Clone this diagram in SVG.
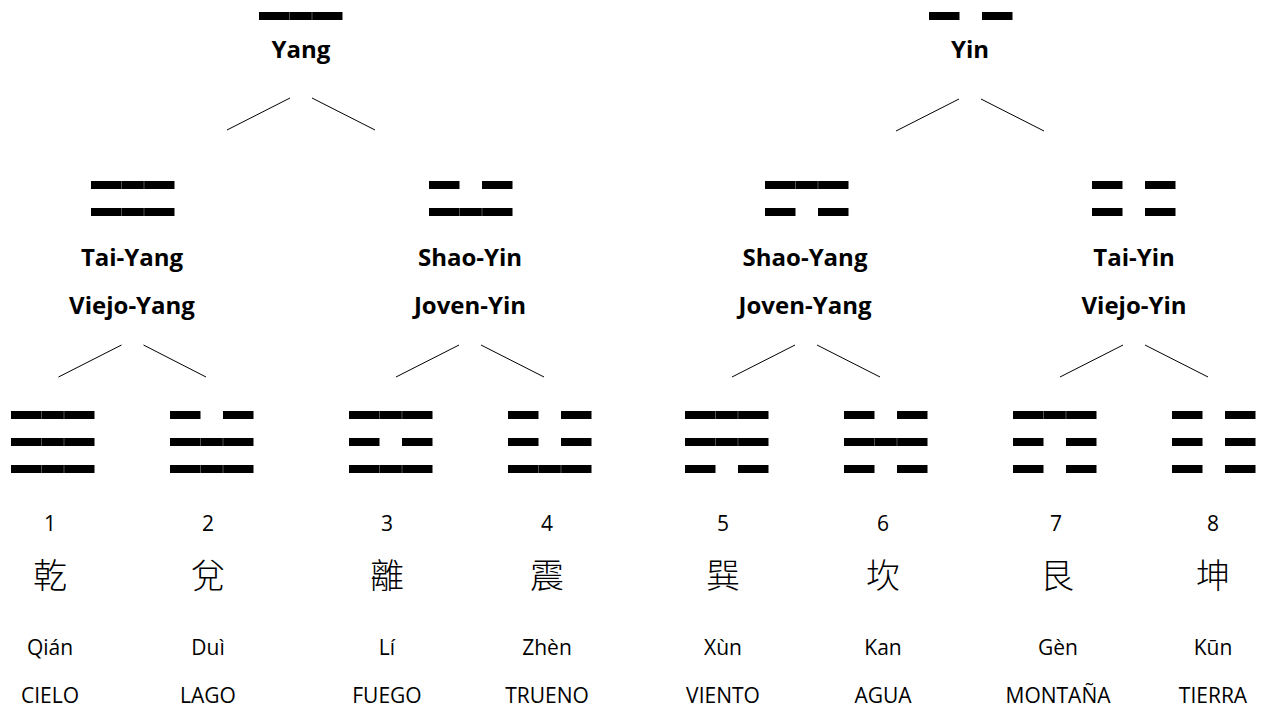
<svg xmlns="http://www.w3.org/2000/svg" xmlns:xlink="http://www.w3.org/1999/xlink" width="1265" height="711" viewBox="0 0 1265 711">
<style>
.b{font-family:"Open Sans","Liberation Sans",sans-serif;font-weight:bold;font-size:24px;fill:#000;text-anchor:middle}
.r{font-family:"Open Sans","Liberation Sans",sans-serif;font-size:21px;fill:#000;text-anchor:middle}
.c{font-family:"Noto Sans CJK TC","Noto Sans CJK SC",sans-serif;font-weight:300;font-size:34px;fill:#000;text-anchor:middle}
.ln{stroke:#000;stroke-width:1;fill:none}
.dv{stroke:#666;stroke-width:0.8}
</style>
<defs>
<g id="solid"><rect x="0" y="0" width="83.5" height="8" fill="#000"/><line class="dv" x1="30.5" y1="0" x2="30.5" y2="8"/><line class="dv" x1="53" y1="0" x2="53" y2="8"/></g>
<g id="broken"><rect x="0" y="0" width="30.5" height="8" fill="#000"/><rect x="53" y="0" width="30.5" height="8" fill="#000"/></g>
</defs>
<g id="connectors">
<line class="ln" x1="227" y1="130" x2="290" y2="98"/><line class="ln" x1="312" y1="98" x2="375" y2="130"/>
<line class="ln" x1="896" y1="131" x2="959" y2="99"/><line class="ln" x1="981" y1="99" x2="1044" y2="131"/>
<line class="ln" x1="58.5" y1="377" x2="121.5" y2="345"/><line class="ln" x1="143.5" y1="345" x2="206" y2="377"/>
<line class="ln" x1="396" y1="377" x2="459" y2="345"/><line class="ln" x1="481" y1="345" x2="544" y2="377"/>
<line class="ln" x1="732" y1="377" x2="795" y2="345"/><line class="ln" x1="817" y1="345" x2="880" y2="377"/>
<line class="ln" x1="1060" y1="377" x2="1123" y2="345"/><line class="ln" x1="1145" y1="345" x2="1208" y2="377"/>
</g>
<g id="yang"><use xlink:href="#solid" x="259" y="12"/><text class="b" x="301" y="58">Yang</text></g>
<g id="yin"><use xlink:href="#broken" x="929" y="12"/><text class="b" x="970" y="58">Yin</text></g>
<g id="tai-yang"><use xlink:href="#solid" x="91" y="181"/><use xlink:href="#solid" x="91" y="208"/><text class="b" x="132" y="266">Tai-Yang</text><text class="b" x="132" y="314">Viejo-Yang</text></g>
<g id="shao-yin"><use xlink:href="#broken" x="429" y="181"/><use xlink:href="#solid" x="429" y="208"/><text class="b" x="470" y="266">Shao-Yin</text><text class="b" x="470" y="314">Joven-Yin</text></g>
<g id="shao-yang"><use xlink:href="#solid" x="765" y="181"/><use xlink:href="#broken" x="765" y="208"/><text class="b" x="805" y="266">Shao-Yang</text><text class="b" x="805" y="314">Joven-Yang</text></g>
<g id="tai-yin"><use xlink:href="#broken" x="1092" y="181"/><use xlink:href="#broken" x="1092" y="208"/><text class="b" x="1134" y="266">Tai-Yin</text><text class="b" x="1134" y="314">Viejo-Yin</text></g>
<g id="t1"><use xlink:href="#solid" x="11" y="411"/><use xlink:href="#solid" x="11" y="438"/><use xlink:href="#solid" x="11" y="465"/><text class="r" x="50" y="531">1</text><text class="c" x="50" y="588">乾</text><text class="r" x="50" y="655">Qián</text><text class="r" x="50" y="703">CIELO</text></g>
<g id="t2"><use xlink:href="#broken" x="170" y="411"/><use xlink:href="#solid" x="170" y="438"/><use xlink:href="#solid" x="170" y="465"/><text class="r" x="208" y="531">2</text><text class="c" x="208" y="588">兌</text><text class="r" x="208" y="655">Duì</text><text class="r" x="208" y="703">LAGO</text></g>
<g id="t3"><use xlink:href="#solid" x="349" y="411"/><use xlink:href="#broken" x="349" y="438"/><use xlink:href="#solid" x="349" y="465"/><text class="r" x="387" y="531">3</text><text class="c" x="387" y="588">離</text><text class="r" x="387" y="655">Lí</text><text class="r" x="387" y="703">FUEGO</text></g>
<g id="t4"><use xlink:href="#broken" x="508" y="411"/><use xlink:href="#broken" x="508" y="438"/><use xlink:href="#solid" x="508" y="465"/><text class="r" x="547" y="531">4</text><text class="c" x="547" y="588">震</text><text class="r" x="547" y="655">Zhèn</text><text class="r" x="547" y="703">TRUENO</text></g>
<g id="t5"><use xlink:href="#solid" x="685" y="411"/><use xlink:href="#solid" x="685" y="438"/><use xlink:href="#broken" x="685" y="465"/><text class="r" x="723" y="531">5</text><text class="c" x="723" y="588">巽</text><text class="r" x="723" y="655">Xùn</text><text class="r" x="723" y="703">VIENTO</text></g>
<g id="t6"><use xlink:href="#broken" x="844" y="411"/><use xlink:href="#solid" x="844" y="438"/><use xlink:href="#broken" x="844" y="465"/><text class="r" x="883" y="531">6</text><text class="c" x="883" y="588">坎</text><text class="r" x="883" y="655">Kan</text><text class="r" x="883" y="703">AGUA</text></g>
<g id="t7"><use xlink:href="#solid" x="1013" y="411"/><use xlink:href="#broken" x="1013" y="438"/><use xlink:href="#broken" x="1013" y="465"/><text class="r" x="1056" y="531">7</text><text class="c" x="1057" y="588">艮</text><text class="r" x="1058" y="655">Gèn</text><text class="r" x="1058" y="703">MONTAÑA</text></g>
<g id="t8"><use xlink:href="#broken" x="1172" y="411"/><use xlink:href="#broken" x="1172" y="438"/><use xlink:href="#broken" x="1172" y="465"/><text class="r" x="1213" y="531">8</text><text class="c" x="1213" y="588">坤</text><text class="r" x="1213" y="655">Kūn</text><text class="r" x="1213" y="703">TIERRA</text></g>
</svg>
